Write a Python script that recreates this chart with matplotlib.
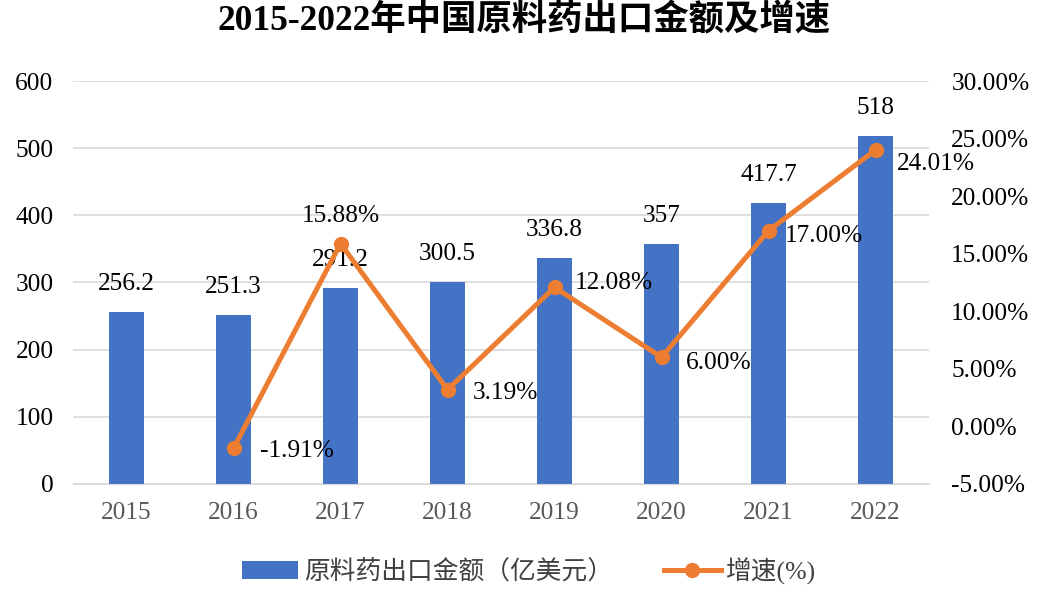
import numpy as np
import matplotlib.pyplot as plt
from matplotlib.ticker import FuncFormatter

plt.rcParams['font.family'] = ['Liberation Serif', 'Noto Sans CJK SC']

years = ['2015', '2016', '2017', '2018', '2019', '2020', '2021', '2022']
export_amt = [256.2, 251.3, 291.2, 300.5, 336.8, 357, 417.7, 518]
amt_labels = ['256.2', '251.3', '291.2', '300.5', '336.8', '357', '417.7', '518']
growth_years = ['2016', '2017', '2018', '2019', '2020', '2021', '2022']
growth_pct = [-1.91, 15.88, 3.19, 12.08, 6.00, 17.00, 24.01]

BLUE = '#4472C4'
ORANGE = '#ED7D31'
FS = 18.3

# label placement for the growth line (pixel offsets, dx to left edge / dy up)
lbl_off = [(26, -3), (0, 28), (25, -3), (20, 4), (24, -6), (16, -5), (21, -14)]


def main():
    fig = plt.figure(figsize=(10.37, 5.9), dpi=100)
    ax = fig.add_axes([0.0704, 0.1797, 0.8255, 0.683])
    ax2 = ax.twinx()

    x = np.arange(len(years))
    ax.bar(x, export_amt, width=0.32, color=BLUE, zorder=2,
           label='原料药出口金额（亿美元）')
    for xi, v, s in zip(x, export_amt, amt_labels):
        ax.annotate(s, (xi, v), xytext=(0, 28), textcoords='offset pixels',
                    ha='center', va='center', fontsize=FS)

    gx = np.array([years.index(y) for y in growth_years])
    gv = np.array(growth_pct) / 100
    ax2.plot(gx, gv, color=ORANGE, lw=3.6, marker='o', ms=10, zorder=3,
             label='增速(%)')
    for xi, v, (dx, dy) in zip(gx, gv, lbl_off):
        ha = 'center' if dx == 0 else 'left'
        ax2.annotate(f'{v * 100:.2f}%', (xi, v), xytext=(dx, dy),
                     textcoords='offset pixels', ha=ha, va='center',
                     fontsize=FS, zorder=4)

    ax.set_xlim(-0.5, len(years) - 0.5)
    ax.set_ylim(0, 600)
    ax.set_yticks(range(0, 601, 100))
    ax2.set_ylim(-0.05, 0.30)
    ax2.set_yticks(np.arange(-0.05, 0.301, 0.05))
    ax2.yaxis.set_major_formatter(FuncFormatter(lambda v, p: f'{v * 100:.2f}%'))

    ax.set_xticks(x)
    ax.set_xticklabels(years, color='#595959')
    ax.grid(axis='y', color='#D9D9D9', lw=1.2, zorder=0)
    ax.set_axisbelow(True)
    for a in (ax, ax2):
        for sp in a.spines.values():
            sp.set_visible(False)
        a.tick_params(length=0, labelsize=FS)
    ax.spines['bottom'].set_visible(True)
    ax.spines['bottom'].set_color('#D9D9D9')
    ax.tick_params(axis='y', pad=14)
    ax.tick_params(axis='x', pad=13)
    ax2.tick_params(axis='y', pad=16)

    fig.text(0.505, 0.963, '2015-2022年中国原料药出口金额及增速', fontsize=25.5,
             fontweight='bold', ha='center', va='center')

    h1, l1 = ax.get_legend_handles_labels()
    h2, l2 = ax2.get_legend_handles_labels()
    leg = fig.legend(h1 + h2, l1 + l2, loc='center', ncol=2, frameon=False,
                     fontsize=18.5, bbox_to_anchor=(0.51, 0.032),
                     columnspacing=2.0, handlelength=2.2, handletextpad=0.2)
    for t in leg.get_texts():
        t.set_color('#404040')

    fig.savefig('out.png', dpi=100)
    plt.close(fig)


if __name__ == '__main__':
    main()
